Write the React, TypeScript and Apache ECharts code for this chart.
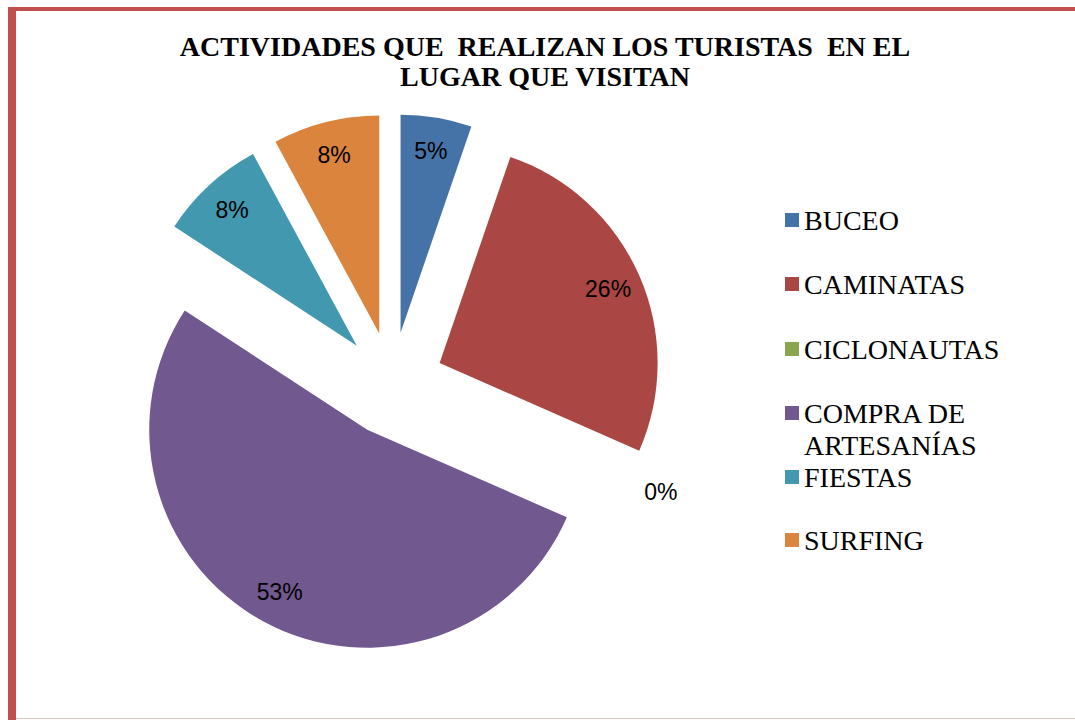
import React, { useEffect, useRef } from "react";
import * as echarts from "echarts";

const names = ["BUCEO", "CAMINATAS", "CICLONAUTAS", "COMPRA DE ARTESANÍAS", "FIESTAS", "SURFING"];
const counts = [2, 10, 0, 20, 3, 3];
const colors = ["#4572A7", "#AA4643", "#89A54E", "#71588F", "#4198AF", "#DB843D"];
const titleText = "ACTIVIDADES QUE  REALIZAN LOS TURISTAS  EN EL\nLUGAR QUE VISITAN";

const legendTops = [204, 268, 333, 397, 461, 524];
const tallIcon = "path://M0,0L14,0L14,14L0,14Z M0,45L0.1,46";

export default function App() {
  const ref = useRef<HTMLDivElement>(null);
  useEffect(() => {
    if (!ref.current) return;
    const chart = echarts.init(ref.current, undefined, { renderer: "svg" });
    const center = [392, 384];
    const R = 218;
    const offset = 52;
    const pieData = names.map((n, i) => ({
      name: n,
      value: counts[i],
      selected: true,
      itemStyle: { color: colors[i] },
    }));
    const labelData = names.map((n, i) => ({
      name: n,
      value: counts[i],
      selected: true,
      label:
        counts[i] === 0
          ? { position: "outside" }
          : { position: "inside" },
      labelLine: { show: false, length: 0, length2: 0 },
    }));
    const legends = names.map((n, i) => ({
      data: [{ name: n, icon: i === 3 ? tallIcon : "rect", itemStyle: { color: colors[i] } }],
      left: 785,
      top: legendTops[i],
      orient: "vertical",
      padding: 0,
      itemWidth: 14,
      itemHeight: i === 3 ? 46 : 14,
      selectedMode: false,
      textStyle: {
        fontFamily: "Liberation Serif",
        fontSize: 28,
        lineHeight: 32,
        color: "#000",
        ...(i === 3 ? { width: 200, overflow: "break" } : {}),
      },
    }));
    chart.setOption({
      animation: false,
      backgroundColor: "#fff",
      title: {
        text: titleText,
        left: 545,
        top: 31,
        padding: 0,
        textAlign: "center",
        textStyle: {
          fontFamily: "Liberation Serif",
          fontWeight: "bold",
          fontSize: 28,
          lineHeight: 30,
          color: "#000",
        },
      },
      legend: legends,
      graphic: [
        { type: "rect", shape: { x: 8, y: 7, width: 1067, height: 4 }, style: { fill: "#C0504D" }, silent: true },
        { type: "rect", shape: { x: 8, y: 7, width: 8, height: 713 }, style: { fill: "#C0504D" }, silent: true },
        { type: "rect", shape: { x: 16, y: 718, width: 1059, height: 1 }, style: { fill: "#E6C4C3" }, silent: true },
      ],
      series: [
        {
          type: "pie",
          center,
          radius: [0, R],
          startAngle: 90,
          clockwise: true,
          selectedMode: "multiple",
          selectedOffset: offset,
          silent: true,
          avoidLabelOverlap: false,
          label: { show: false },
          labelLine: { show: false },
          emphasis: { disabled: true },
          select: { itemStyle: { borderWidth: 0 } },
          itemStyle: { borderWidth: 0 },
          data: pieData,
        },
        {
          type: "pie",
          center,
          radius: [R * 0.66, R],
          startAngle: 90,
          clockwise: true,
          selectedMode: "multiple",
          selectedOffset: offset,
          silent: true,
          avoidLabelOverlap: false,
          percentPrecision: 0,
          itemStyle: { color: "rgba(0,0,0,0)", borderWidth: 0 },
          emphasis: { disabled: true },
          select: { itemStyle: { borderWidth: 0 } },
          label: {
            show: true,
            formatter: "{d}%",
            color: "#000",
            fontFamily: "Liberation Sans",
            fontSize: 23,
          },
          labelLine: { show: false, length: 0, length2: 0 },
          data: labelData,
        },
      ],
    });
    return () => chart.dispose();
  }, []);
  return (
    <div
      ref={ref}
      style={{ position: "absolute", left: 0, top: 0, width: 1075, height: 720, background: "#fff" }}
    />
  );
}
